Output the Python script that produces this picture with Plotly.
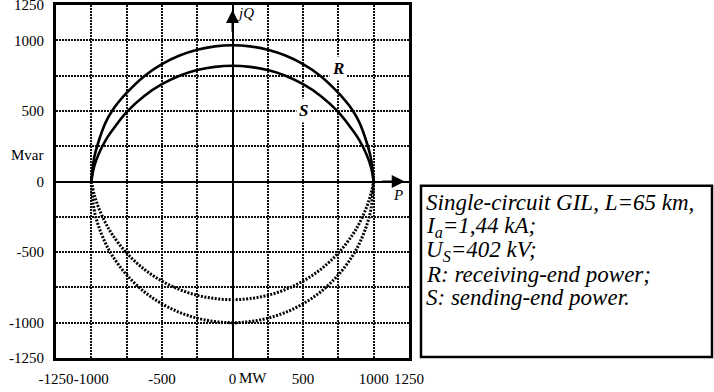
import plotly.graph_objects as go

# ---- data ----
P_pts = [-1000, -980, -950, -900, -850, -750, -625, -500, -375, -250, -125, 0,
         125, 250, 375, 500, 625, 750, 850, 900, 950, 980, 1000]
R_upper = [0, 166, 278, 415, 505, 627, 746, 831, 892, 933, 957, 965,
           957, 933, 892, 831, 746, 627, 505, 415, 278, 166, 0]
S_upper = [0, 105, 190, 290, 364, 491, 606, 689, 749, 789, 812, 820,
           812, 789, 749, 689, 606, 491, 364, 290, 190, 105, 0]
R_lower = [0, -89, -181, -292, -378, -506, -622, -705, -765, -806, -829, -837,
           -829, -806, -765, -705, -622, -506, -378, -292, -181, -89, 0]
S_lower = [0, -199, -312, -436, -527, -661, -781, -866, -927, -968, -992, -1000,
           -992, -968, -927, -866, -781, -661, -527, -436, -312, -199, 0]

tick_vals = [-1250, -1000, -750, -500, -250, 0, 250, 500, 750, 1000, 1250]
x_tick_text = ["-1250", "-1000", "", "-500", "", "0", "", "500", "", "1000", "1250"]
y_tick_text = ["-1250", "-1000", "", "-500", "", "0", "", "500", "", "1000", "1250"]

legend_lines = [
    "Single-circuit GIL, L=65 km,",
    "I<sub>a</sub>=1,44 kA;",
    "U<sub>S</sub>=402 kV;",
    "R: receiving-end power;",
    "S: sending-end power.",
]

FONT = '"Liberation Serif", "Times New Roman", "DejaVu Serif", serif'

fig = go.Figure()
for yv in (R_upper, S_upper):
    fig.add_trace(go.Scatter(x=P_pts, y=yv, mode="lines",
                             line=dict(color="black", width=2.6, shape="spline"),
                             showlegend=False, hoverinfo="skip"))
for yv in (R_lower, S_lower):
    fig.add_trace(go.Scatter(x=P_pts, y=yv, mode="lines",
                             line=dict(color="black", width=3, dash="2px,1.5px", shape="spline"),
                             showlegend=False, hoverinfo="skip"))

axis_common = dict(
    range=[-1250, 1250], tickmode="array", tickvals=tick_vals,
    showgrid=True, gridcolor="#111", gridwidth=2, griddash="1.5px,1.5px",
    zeroline=True, zerolinecolor="black", zerolinewidth=2,
    showline=True, linecolor="black", linewidth=3, mirror=True,
    ticks="", tickfont=dict(family=FONT, size=15, color="black"),
    fixedrange=True, automargin=False, ticklabeloverflow="allow",
)
fig.update_xaxes(**axis_common, ticktext=x_tick_text, tickangle=0, ticklabelstandoff=5)
fig.update_yaxes(**axis_common, ticktext=y_tick_text, ticklabelstandoff=6)

ann = []
# axis arrows
ann.append(dict(x=0, y=1215, ax=0, ay=1050, xref="x", yref="y", axref="x", ayref="y",
                showarrow=True, arrowhead=2, arrowsize=1.3, arrowwidth=2, arrowcolor="black", text=""))
ann.append(dict(x=1220, y=0, ax=1050, ay=0, xref="x", yref="y", axref="x", ayref="y",
                showarrow=True, arrowhead=2, arrowsize=1.3, arrowwidth=2, arrowcolor="black", text=""))
ann.append(dict(x=20, y=1195, xref="x", yref="y", text="<i>jQ</i>", showarrow=False,
                xanchor="left", yanchor="middle", font=dict(family=FONT, size=15, color="black")))
ann.append(dict(x=1170, y=-95, xref="x", yref="y", text="<i>P</i>", showarrow=False,
                xanchor="center", yanchor="middle", font=dict(family=FONT, size=15, color="black")))
ann.append(dict(x=745, y=800, xref="x", yref="y", text="<b><i>R</i></b>", showarrow=False,
                bgcolor="white", borderpad=2, font=dict(family=FONT, size=17, color="black")))
ann.append(dict(x=500, y=500, xref="x", yref="y", text="<b><i>S</i></b>", showarrow=False,
                bgcolor="white", borderpad=2, font=dict(family=FONT, size=17, color="black")))
ann.append(dict(x=0, y=190, xref="paper", yref="y", text="Mvar", showarrow=False,
                xanchor="right", xshift=-10, yanchor="middle",
                font=dict(family=FONT, size=15, color="black")))
ann.append(dict(x=30, y=0, xref="x", yref="paper", text="MW", showarrow=False,
                xanchor="left", yanchor="middle", yshift=-20,
                font=dict(family=FONT, size=15, color="black")))
# legend text box
line_y = [203, 227, 251, 275, 298]
for txt, yp in zip(legend_lines, line_y):
    ann.append(dict(x=(424 - 56) / 353, y=(358 - yp) / 352.5, xref="paper", yref="paper",
                    text="<i>" + txt + "</i>", showarrow=False, xanchor="left", yanchor="middle",
                    font=dict(family=FONT, size=23, color="black")))

fig.update_layout(
    width=714, height=392,
    margin=dict(l=56, r=305, t=5, b=34, autoexpand=False),
    paper_bgcolor="white", plot_bgcolor="white",
    annotations=ann,
    shapes=[dict(type="rect", xref="paper", yref="paper",
                 x0=(421 - 56) / 353, x1=(712 - 56) / 353,
                 y0=(358 - 357) / 352.5, y1=(358 - 186) / 352.5,
                 line=dict(color="black", width=2.5), fillcolor="rgba(0,0,0,0)")],
)

fig.write_html("out.html", config={"displayModeBar": False},
               post_script="document.body.style.margin='0';document.body.style.padding='0';")
